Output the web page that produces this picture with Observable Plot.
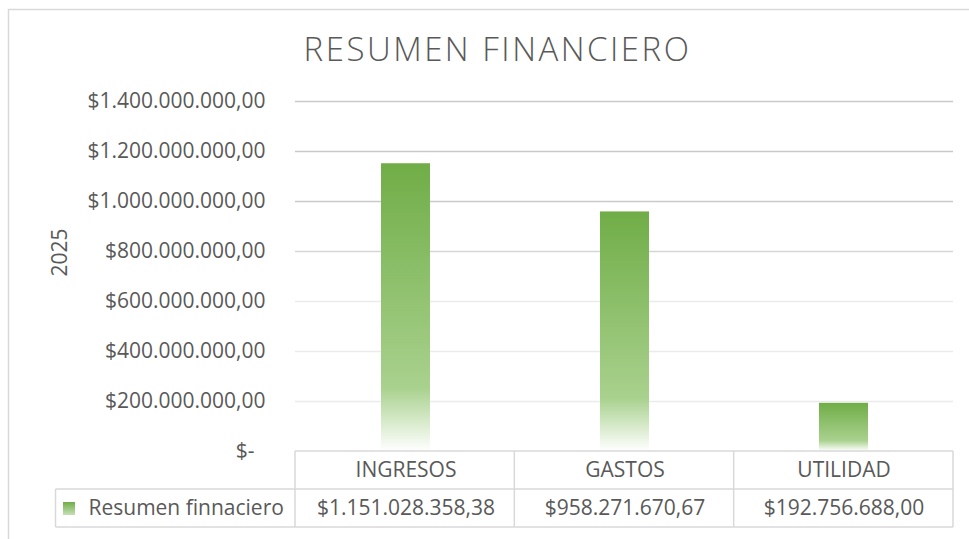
<!DOCTYPE html>
<html><head><meta charset="utf-8">
<script src="https://cdn.jsdelivr.net/npm/d3@7"></script>
<script src="https://cdn.jsdelivr.net/npm/@observablehq/plot@0.6"></script>
<style>
body{margin:0;background:#fff}
svg{display:block}
</style>
</head><body><div id="chart"></div>
<script>
const title = "RESUMEN FINANCIERO";
const yLabel = "2025";
const seriesName = "Resumen finnaciero";
const categories = ["INGRESOS", "GASTOS", "UTILIDAD"];
const values = [1151028358.38, 958271670.67, 192756688.00];
const yTicks = [0, 200000000, 400000000, 600000000, 800000000, 1000000000, 1200000000, 1400000000];

const loc = d3.formatLocale({decimal: ",", thousands: ".", grouping: [3], currency: ["$", ""]});
const fmt = loc.format("$,.2f");
const tickFmt = v => v === 0 ? "$-\u00a0\u00a0" : fmt(v);
const data = categories.map((c, i) => ({category: c, value: values[i]}));

const FONT = "'Open Sans', sans-serif";
const TXT = "#595959";
const LINE = "#d9d9d9";

const defsMark = () => {
  const svg = d3.create("svg:defs");
  const g = svg.append("linearGradient").attr("id", "barGrad").attr("x1", 0).attr("y1", 0).attr("x2", 0).attr("y2", 1);
  g.append("stop").attr("offset", "0%").attr("stop-color", "#70ad47");
  g.append("stop").attr("offset", "78%").attr("stop-color", "#a9d18e");
  g.append("stop").attr("offset", "100%").attr("stop-color", "#ffffff");
  const g2 = svg.append("linearGradient").attr("id", "swGrad").attr("x1", 0).attr("y1", 0).attr("x2", 0).attr("y2", 1);
  g2.append("stop").attr("offset", "0%").attr("stop-color", "#70ad47");
  g2.append("stop").attr("offset", "100%").attr("stop-color", "#c5e0b4");
  return svg.node();
};

const frameMark = (index, scales, values, dims) => {
  const g = d3.create("svg:g");
  g.append("path").attr("d", `M8.5,${dims.height + 5}V9.5H${dims.width + 5}`)
    .attr("fill", "none").attr("stroke", LINE).attr("stroke-width", 1.5);
  return g.node();
};

const tableMark = (index, scales, vals, dims) => {
  const y = scales.y;
  const bw = (dims.width - dims.marginLeft - dims.marginRight) / categories.length;
  const left = dims.marginLeft, right = dims.width - dims.marginRight;
  const y0 = y(0), y1 = y0 + 38, y2 = y0 + 76;
  const legendLeft = 55.5;
  const g = d3.create("svg:g").attr("fill", "none").attr("stroke", LINE).attr("stroke-width", 1.5);
  g.append("path").attr("d", `M${left},${y0}H${right}`);
  g.append("path").attr("d", `M${legendLeft},${y1}H${right}`);
  g.append("path").attr("d", `M${legendLeft},${y2}H${right}`);
  g.append("path").attr("d", `M${legendLeft},${y1}V${y2}`);
  categories.forEach((c, i) => {
    g.append("path").attr("d", `M${left + i * bw},${y0}V${y2}`);
  });
  g.append("path").attr("d", `M${right},${y0}V${y2}`);
  g.append("rect").attr("x", 63).attr("y", y1 + 13).attr("width", 12).attr("height", 13)
    .attr("fill", "url(#swGrad)").attr("stroke", "none");
  return g.node();
};

const chart = Plot.plot({
  width: 969,
  height: 539,
  marginTop: 101,
  marginBottom: 88,
  marginLeft: 295,
  marginRight: 16,
  style: {fontFamily: FONT, color: TXT, background: "#fff"},
  x: {type: "band", domain: categories, padding: 0, axis: null},
  y: {domain: [0, 1400000000], axis: null},
  marks: [
    defsMark,
    frameMark,
    Plot.ruleY(yTicks.filter(d => d > 0), {
      stroke: d => d >= 1000000000 ? "#c9c9c9" : d >= 800000000 ? "#d5d5d5" : "#ebebeb",
      strokeWidth: 1.5
    }),
    Plot.barY(data, {x: "category", y: "value", fill: "url(#barGrad)", insetLeft: 85, insetRight: 85}),
    Plot.axisY({ticks: yTicks, tickFormat: tickFmt, tickSize: 0, tickPadding: 30, fontSize: 21, label: null}),
    Plot.text([yLabel], {frameAnchor: "left", dx: -235, rotate: -90, fontSize: 21, fill: TXT}),
    Plot.text([title], {frameAnchor: "top", dx: -127, dy: -51, fontSize: 33, fontWeight: 300, fill: TXT, lineAnchor: "middle"}),
    tableMark,
    Plot.text(data, {x: "category", y: () => 0, text: "category", dy: 19, fontSize: 21, fill: TXT, lineAnchor: "middle"}),
    Plot.text(data, {x: "category", y: () => 0, text: d => fmt(d.value), dy: 57, fontSize: 21, fill: TXT, lineAnchor: "middle"}),
    Plot.text([seriesName], {frameAnchor: "bottom-left", dx: -207, dy: 57, textAnchor: "start", fontSize: 21, fill: TXT, lineAnchor: "middle"})
  ]
});
d3.select(chart).selectAll("text").filter(function() { return this.textContent === title; })
  .attr("letter-spacing", "2.5px");
document.getElementById("chart").append(chart);
</script>
</body></html>
